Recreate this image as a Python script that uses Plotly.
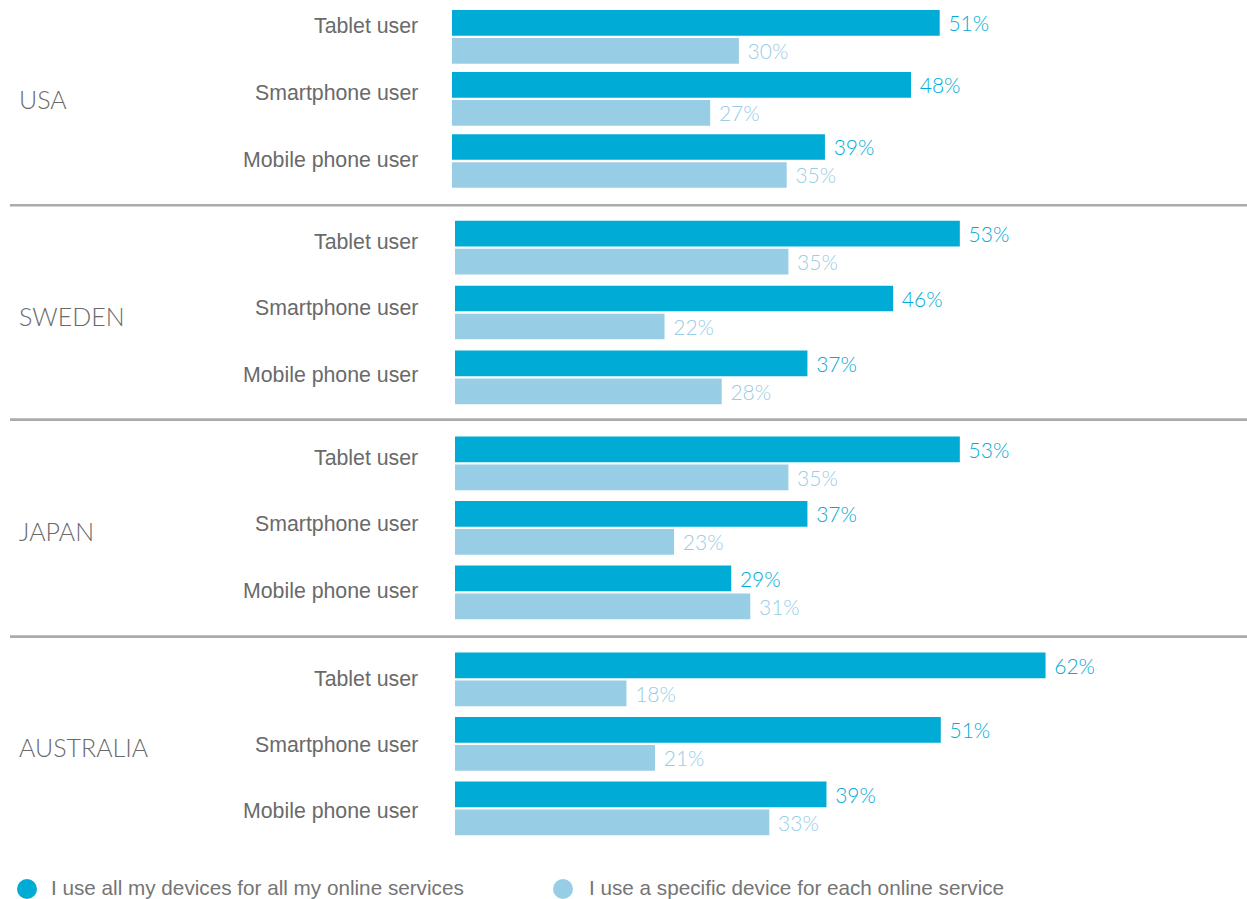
import plotly.graph_objects as go
from plotly.subplots import make_subplots

# ---- data -------------------------------------------------------------
COUNTRIES = ["USA", "SWEDEN", "JAPAN", "AUSTRALIA"]
DEVICES = ["Tablet user", "Smartphone user", "Mobile phone user"]
SERIES_NAMES = [
    "I use all my devices for all my online services",
    "I use a specific device for each online service",
]
ALL_DEVICES = [
    [51, 48, 39],   # USA
    [53, 46, 37],   # Sweden
    [53, 37, 29],   # Japan
    [62, 51, 39],   # Australia
]
SPECIFIC_DEVICE = [
    [30, 27, 35],
    [35, 22, 28],
    [35, 23, 31],
    [18, 21, 33],
]

# ---- styling / layout -------------------------------------------------
W, H = 1247, 899
DARK = "#00abd6"
LIGHT = "#98cde6"
LABEL_GREY = "#6a6a6a"
LEGEND_GREY = "#757575"
SEP_GREY = "#ababab"

# panel extents in pixels (top, bottom) and left edge of the bar area
PANEL_PX = [(5.9, 192.0), (215.3, 409.7), (431.1, 624.6), (647.1, 840.6)]
BAR_LEFT_PX = [452, 455, 455, 455]
BAR_RIGHT_PX = 1217
X_MAX = 80
BAR_PX = 25.7     # bar thickness
GAP_PX = 1.15     # half gap between the pair of bars
DEVICE_LABEL_SHIFT = [[11, 6, 1], [6, 5, 2], [5, 4, 1], [0, -1, -3]]
COUNTRY_LABEL_SHIFT = [0, -3, -3, -3]
SEPARATORS_PX = [205.3, 419.6, 636.6]
LEGEND_Y_PX = 887


def px_x(p):
    return p / W


def px_y(p):
    return 1 - p / H


fig = make_subplots(rows=4, cols=1, shared_xaxes=False)

for i, country in enumerate(COUNTRIES):
    row = i + 1
    top, bottom = PANEL_PX[i]
    pitch = (bottom - top) / len(DEVICES)
    width_u = BAR_PX / pitch
    for vals, color, name, off in (
        (ALL_DEVICES[i], DARK, SERIES_NAMES[0], -(GAP_PX + BAR_PX) / pitch),
        (SPECIFIC_DEVICE[i], LIGHT, SERIES_NAMES[1], GAP_PX / pitch),
    ):
        fig.add_trace(
            go.Bar(
                x=vals,
                y=DEVICES,
                orientation="h",
                name=name,
                marker=dict(color=color, line=dict(width=0)),
                width=[width_u] * len(vals),
                offset=[off] * len(vals),
                text=vals,
                texttemplate="\u00a0%{x}%",
                textposition="outside",
                constraintext="none",
                cliponaxis=False,
                textfont=dict(family="Lato, sans-serif", size=21, color=color, weight=300),
                showlegend=False,
                hoverinfo="skip",
            ),
            row=row,
            col=1,
        )

    xa = "xaxis" if i == 0 else f"xaxis{row}"
    ya = "yaxis" if i == 0 else f"yaxis{row}"
    fig.layout[xa].update(
        domain=[px_x(BAR_LEFT_PX[i]), px_x(BAR_RIGHT_PX)],
        range=[0, X_MAX],
        visible=False,
        fixedrange=True,
    )
    fig.layout[ya].update(
        domain=[px_y(bottom), px_y(top)],
        type="category",
        categoryarray=DEVICES,
        range=[len(DEVICES) - 0.5, -0.5],
        visible=False,
        fixedrange=True,
    )

    yref = "y" if i == 0 else f"y{row}"
    # country name
    fig.add_annotation(
        text=country,
        xref="paper", x=px_x(17), xanchor="left",
        yref=f"{yref} domain", y=0.5, yanchor="middle", yshift=COUNTRY_LABEL_SHIFT[i],
        showarrow=False,
        font=dict(family="Lato, sans-serif", size=25, color=LABEL_GREY, weight=300),
    )
    # device labels
    for j, dev in enumerate(DEVICES):
        fig.add_annotation(
            text=dev,
            xref="paper", x=px_x(420), xanchor="right",
            yref=yref, y=dev, yanchor="middle", yshift=DEVICE_LABEL_SHIFT[i][j],
            showarrow=False,
            font=dict(family="Liberation Sans, Arial, sans-serif", size=21.3, color=LABEL_GREY),
        )

# separators between the country panels
for y in SEPARATORS_PX:
    fig.add_shape(
        type="line", xref="paper", yref="paper",
        x0=px_x(10), x1=1, y0=px_y(y), y1=px_y(y),
        line=dict(color=SEP_GREY, width=2.6),
    )

# legend drawn as circles + text along the bottom edge
for cx, tx, color, name in ((27, 49, DARK, SERIES_NAMES[0]), (563, 587, LIGHT, SERIES_NAMES[1])):
    fig.add_shape(
        type="circle", xref="paper", yref="paper",
        xsizemode="pixel", ysizemode="pixel",
        xanchor=px_x(cx), yanchor=px_y(LEGEND_Y_PX + 2),
        x0=-10, x1=10, y0=-10, y1=10,
        fillcolor=color, line=dict(width=0),
    )
    fig.add_annotation(
        text=name,
        xref="paper", x=px_x(tx), xanchor="left",
        yref="paper", y=px_y(LEGEND_Y_PX), yanchor="middle",
        showarrow=False,
        font=dict(family="Liberation Sans, Arial, sans-serif", size=20.7, color=LEGEND_GREY),
    )

fig.update_layout(
    width=W, height=H,
    margin=dict(l=0, r=0, t=0, b=0),
    paper_bgcolor="white",
    plot_bgcolor="white",
    barmode="overlay",
    showlegend=False,
)

fig.write_html("out.html")
